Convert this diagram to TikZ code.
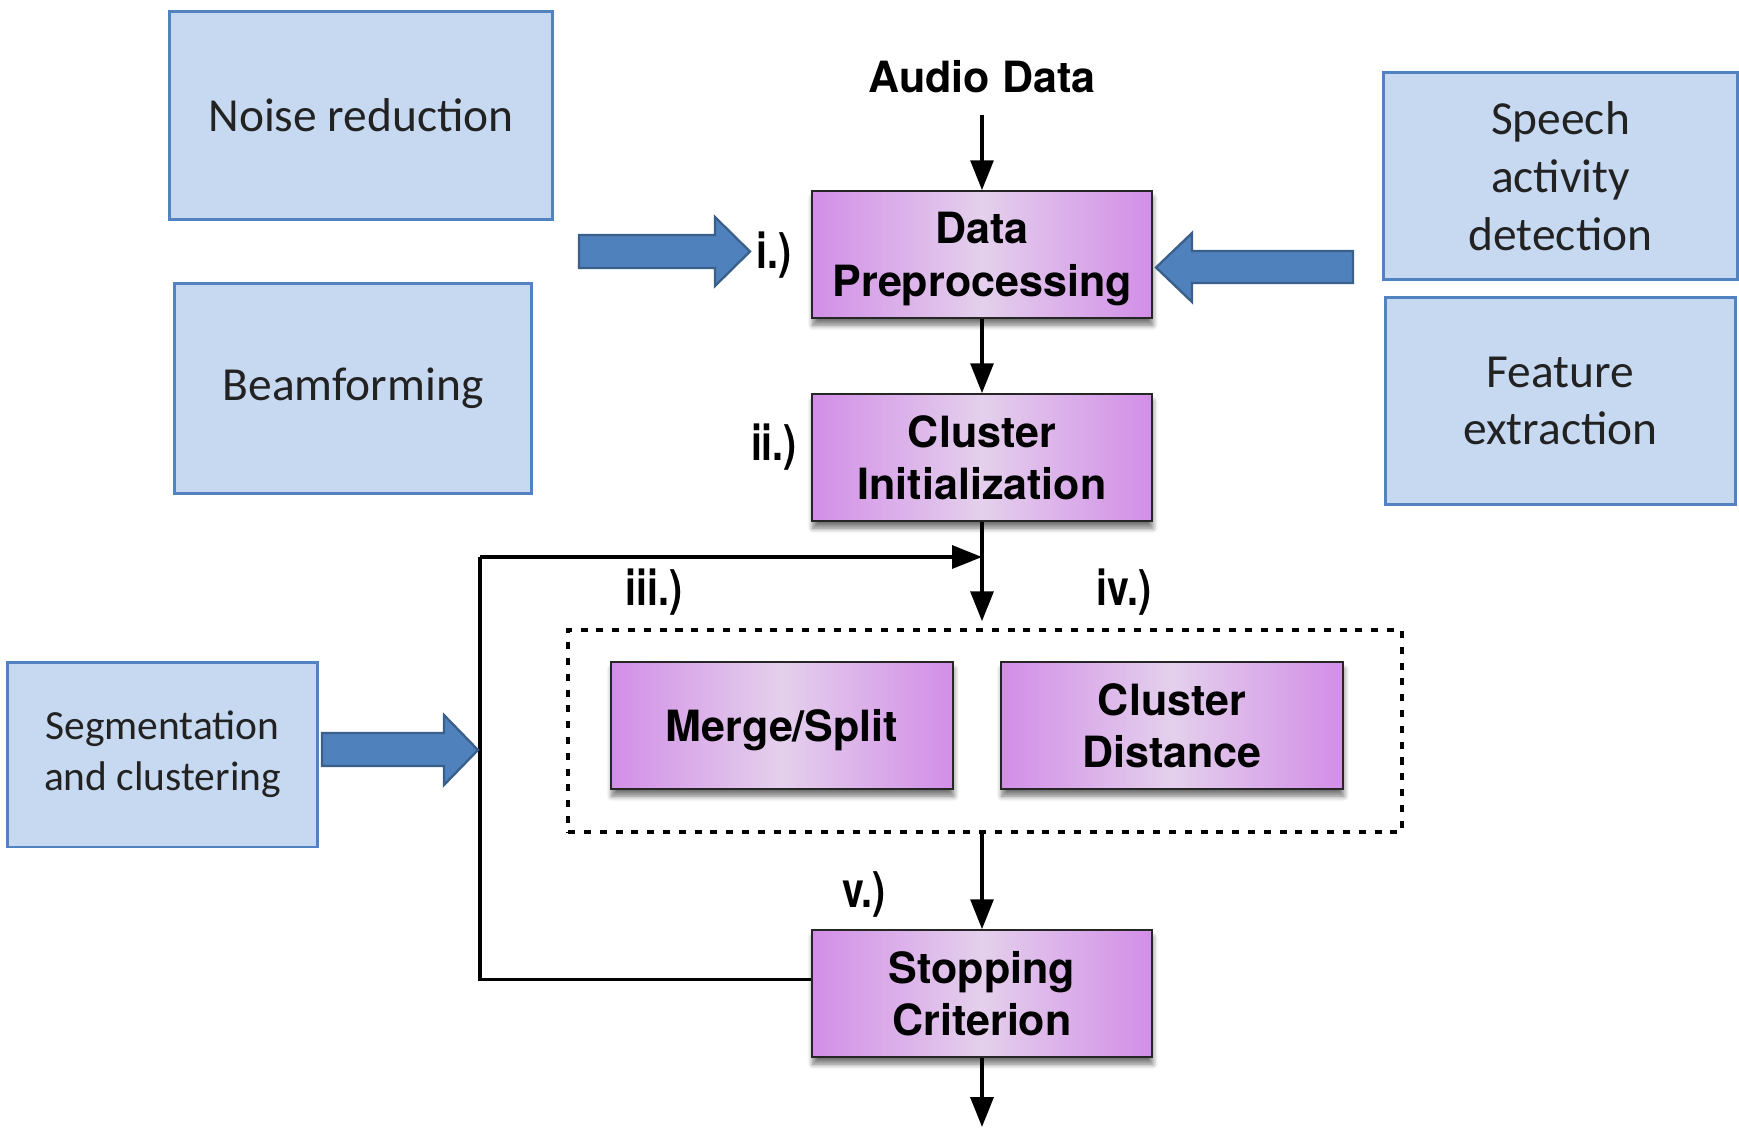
\documentclass[tikz,border=0pt]{standalone}
\usepackage{fontspec}
\setmainfont{TeX Gyre Heros}
\newfontfamily\calfont{Carlito}
\newfontfamily\lblfont[FakeStretch=0.8]{TeX Gyre Heros}
\usetikzlibrary{arrows.meta,shadows,shadows.blur,calc}
\definecolor{pedge}{HTML}{D28EE7}
\definecolor{pmid}{HTML}{E4D0EC}
\definecolor{bfill}{HTML}{C6D9F1}
\definecolor{bline}{HTML}{5282BF}
\definecolor{afill}{HTML}{4F81BD}
\definecolor{aline}{HTML}{3A5F8B}
\definecolor{btext}{HTML}{222222}
\newcommand\topstrut{\rule{0pt}{23pt}}
\newcommand\botstrut{\rule[-5.2pt]{0pt}{5.2pt}}
\tikzset{
  pbox/.style={draw=black!85, line width=1pt, left color=pedge, right color=pedge, middle color=pmid,
    minimum width=6.8cm, minimum height=2.54cm, align=center, inner sep=0pt,
    font=\fontsize{24.5}{29.7}\selectfont\bfseries,
    blur shadow={shadow xshift=0.5pt, shadow yshift=-4pt, shadow opacity=55, shadow blur steps=6, shadow blur radius=3pt}},
  bbox/.style={draw=bline, line width=1.7pt, fill=bfill, align=center, inner sep=0pt,
    text=btext, font=\calfont\fontsize{27}{33}\selectfont},
  conn/.style={line width=2pt, -{Triangle[length=17pt,width=13pt]}},
  plain/.style={line width=2pt},
  blockarrow/.style={fill=afill, draw=aline, line width=1.3pt, line join=miter},
  lbl/.style={font=\lblfont\fontsize{28}{30}\selectfont\bfseries, inner sep=0pt},
}
\begin{document}
\begin{tikzpicture}[x=0.02cm, y=-0.02cm]
\useasboundingbox (0,0) rectangle (1739,1127);

% blue side boxes
\node[bbox, minimum width=7.68cm, minimum height=4.18cm] (noise) at (361,115.5) {Noise reduction};
\node[bbox, minimum width=7.16cm, minimum height=4.22cm] (beam) at (353,388.5) {Beamforming};
\node[bbox, minimum width=6.22cm, minimum height=3.70cm, font=\calfont\fontsize{23.6}{28.8}\selectfont] (seg) at (162.5,754.5) {Segmentation\\and clustering};
\node[bbox, minimum width=7.10cm, minimum height=4.16cm] (speech) at (1560.5,176) {Speech\\activity\\detection};
\node[bbox, minimum width=7.02cm, minimum height=4.16cm, font=\calfont\fontsize{27}{32}\selectfont] (feat) at (1560.5,401) {Feature\\extraction};

% main flow
\node[font=\fontsize{24.5}{29.7}\selectfont\bfseries, inner sep=0pt] (audio) at (982,77) {Audio Data};
\node[pbox] (data) at (982,254.5) {\topstrut Data\\Preprocessing\botstrut};
\node[pbox] (init) at (982,457.5) {\topstrut Cluster\\Initialization\botstrut};
\node[draw, line width=2pt, dash pattern=on 4pt off 5pt, minimum width=16.68cm, minimum height=4.04cm, inner sep=0pt] (dash) at (985,731) {};
\node[pbox, minimum width=6.84cm] (merge) at (782,725.5) {\topstrut Merge/Split\botstrut};
\node[pbox, minimum width=6.84cm] (dist) at (1172,725.5) {\topstrut Cluster\\Distance\botstrut};
\node[pbox] (stop) at (982,993.5) {\topstrut Stopping\\Criterion\botstrut};

% labels
\node[lbl] (l1) at (774,255) {i.)};
\node[lbl] (l2) at (774,447) {ii.)};
\node[lbl] (l3) at (654,592) {iii.)};
\node[lbl] (l4) at (1124,592) {iv.)};
\node[lbl] (l5) at (864,894) {v.)};

% connectors
\coordinate (join) at (982,557);
\coordinate (lc) at (480,557);
\coordinate (out) at (982,1127);
\coordinate (sw) at ($(stop.west)+(0,-14)$);
\draw[conn, shorten <=12pt] (audio.south) -- (data.north);
\draw[conn] (data.south) -- (init.north);
\draw[conn, shorten >=4pt] (init.south) -- (init.south |- dash.north);
\draw[plain] (sw) -| (lc);
\draw[conn] (lc) -- (join);
\draw[conn] (dash.south -| stop.north) -- (stop.north);
\draw[conn] (stop.south) -- (out);

% block arrows
\draw[blockarrow] (579,235) -- (715,235) -- (715,217) -- (750,251.5) -- (715,286) -- (715,268) -- (579,268) -- cycle;
\draw[blockarrow] (1353,251) -- (1192,251) -- (1192,233) -- (1156,267.5) -- (1192,302) -- (1192,283) -- (1353,283) -- cycle;
\draw[blockarrow] (322,733) -- (444,733) -- (444,715) -- (478,750) -- (444,785) -- (444,766) -- (322,766) -- cycle;
\end{tikzpicture}
\end{document}
